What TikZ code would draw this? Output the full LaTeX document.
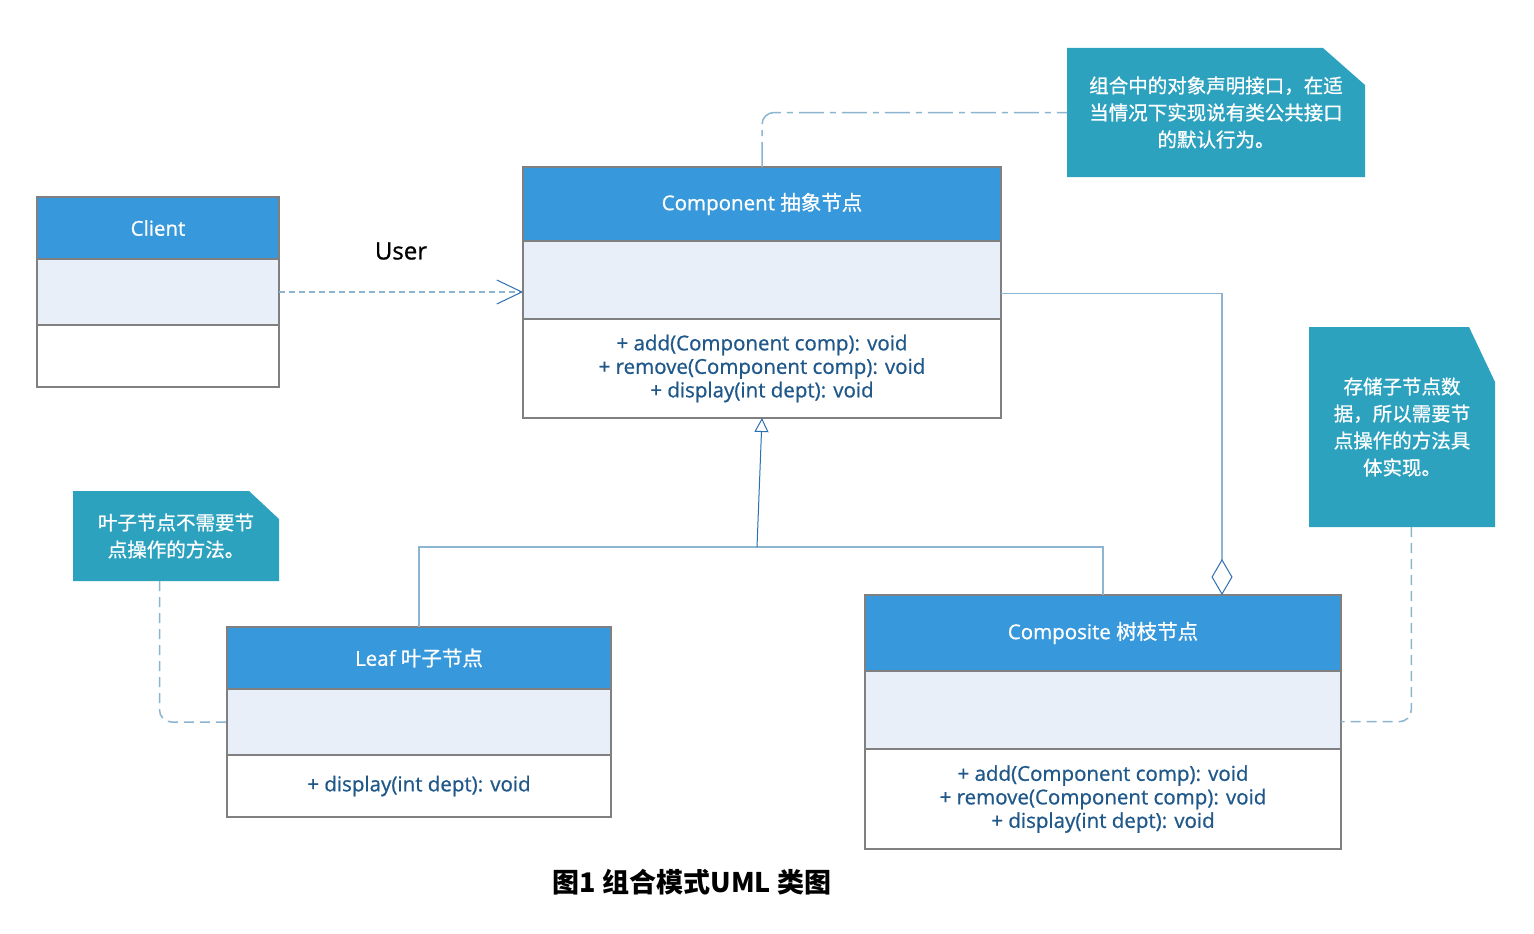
\documentclass[tikz,border=0pt]{standalone}
\usepackage{fontspec}
\setmainfont{Open Sans}[FakeBold=0.8]
\newfontfamily\zh{Noto Sans CJK SC}[FakeBold=0.8]
\newfontfamily\zhtitre{Noto Sans CJK SC}
\usepackage{tikz}
\usepackage{xcolor}
\usetikzlibrary{positioning, calc, arrows.meta, backgrounds}

\definecolor{enteteBleu}{RGB}{55,152,219}
\definecolor{attrFond}{RGB}{232,239,248}
\definecolor{bordGris}{RGB}{128,128,128}
\definecolor{texteMeth}{RGB}{32,88,138}
\definecolor{lienClair}{RGB}{140,181,209}
\definecolor{lienFonce}{RGB}{45,112,178}
\definecolor{noteFond}{RGB}{44,162,191}

\begin{document}
\begin{tikzpicture}[x=1pt, y=-1pt,
    entete/.style={rectangle, draw=bordGris, line width=1.5pt, fill=enteteBleu,
      text=white, inner sep=0pt, outer sep=0pt,
      font=\fontsize{20.5}{24}\selectfont},
    attrs/.style={rectangle, draw=bordGris, line width=1.5pt, fill=attrFond,
      inner sep=0pt, outer sep=0pt},
    meths/.style={rectangle, draw=bordGris, line width=1.5pt, fill=white,
      text=texteMeth, align=center, inner sep=0pt, outer sep=0pt,
      font=\fontsize{20.5}{23.5}\selectfont},
    note/.style={text=white, align=center, inner sep=0pt, outer sep=0pt,
      font=\zh\fontsize{19.5}{27}\selectfont},
    lien/.style={draw=lienClair, line width=1.5pt},
    notelien/.style={lien, rounded corners=12pt, dash pattern=on 10pt off 6pt}
    ]

    \path[use as bounding box] (0,0) rectangle (1534,934);
    \begin{scope}[on background layer]
      \fill[white] (0,0) rectangle (1534,934);
    \end{scope}

    % Classes
    % Client
    \node[entete, minimum width=242pt, minimum height=62pt] (clientTete)
    at (158,228) {Client};
    \node[attrs, minimum width=242pt, minimum height=66pt,
    below=0pt of clientTete] (clientAttr) {};
    \node[meths, minimum width=242pt, minimum height=62pt,
    below=0pt of clientAttr] (clientMeth) {};

    % Component
    \node[entete, minimum width=478pt, minimum height=74pt] (compTete)
    at (762,204) {Component {\zh 抽象节点}};
    \node[attrs, minimum width=478pt, minimum height=78pt,
    below=0pt of compTete] (compAttr) {};
    \node[meths, minimum width=478pt, minimum height=99pt,
    below=0pt of compAttr] (compMeth)
    {+ add(Component comp): void\\+ remove(Component comp): void\\+ display(int dept): void};

    % Leaf
    \node[entete, minimum width=384pt, minimum height=62pt] (leafTete)
    at (419,658) {Leaf {\zh 叶子节点}};
    \node[attrs, minimum width=384pt, minimum height=66pt,
    below=0pt of leafTete] (leafAttr) {};
    \node[meths, minimum width=384pt, minimum height=62pt,
    below=0pt of leafAttr] (leafMeth) {+ display(int dept): void};

    % Composite
    \node[entete, minimum width=476pt, minimum height=76pt] (compoTete)
    at (1103,633) {Composite {\zh 树枝节点}};
    \node[attrs, minimum width=476pt, minimum height=78pt,
    below=0pt of compoTete] (compoAttr) {};
    \node[meths, minimum width=476pt, minimum height=100pt,
    below=0pt of compoAttr] (compoMeth)
    {+ add(Component comp): void\\+ remove(Component comp): void\\+ display(int dept): void};

    % Notes
    \node[note, minimum width=298pt, minimum height=129pt] (note1)
    at (1216,112.5) {组合中的对象声明接口，在适\\当情况下实现说有类公共接口\\的默认行为。};
    \node[note, minimum width=186pt, minimum height=200pt] (note2)
    at (1402,427) {存储子节点数\\据，所以需要节\\点操作的方法具\\体实现。};
    \node[note, minimum width=206pt, minimum height=90pt] (note3)
    at (176,536) {叶子节点不需要节\\点操作的方法。};

    \begin{scope}[on background layer]
      \fill[noteFond] (note1.north west) -- ([xshift=-42pt]note1.north east)
      -- ([yshift=-37pt]note1.north east) -- (note1.south east)
      -- (note1.south west) -- cycle;
      \fill[noteFond] (note2.north west) -- ([xshift=-26pt]note2.north east)
      -- ([yshift=-55pt]note2.north east) -- (note2.south east)
      -- (note2.south west) -- cycle;
      \fill[noteFond] (note3.north west) -- ([xshift=-30pt]note3.north east)
      -- ([yshift=-28pt]note3.north east) -- (note3.south east)
      -- (note3.south west) -- cycle;
    \end{scope}

    % Textes
    \node[font=\fontsize{24}{28}\selectfont] (user) at (401,251) {User};
    \node[font=\zhtitre\bfseries\fontsize{27}{32}\selectfont] (titre) at (692,882)
    {图1 组合模式UML 类图};

    % Liens
    \draw[lien, dash pattern=on 6pt off 4pt,
    -{Straight Barb[length=25pt, width=24pt, line width=1pt, color=lienFonce]}]
    ($(clientAttr.north east)!0.5!(clientAttr.south east)$) coordinate (depDebut)
    -- (depDebut -| compAttr.west);

    \coordinate (genJonction) at (757,547);
    \draw[lien] (leafTete.north) |- (genJonction) -| (compoTete.north);
    \draw[lien, line width=1pt, draw=lienFonce,
    -{Triangle[open, fill=white, length=14pt, width=14pt]}]
    (genJonction) -- (compMeth.south);

    \draw[lien,
    -{Diamond[open, fill=white, length=36pt, width=21pt, line width=1pt, color=lienFonce]}]
    ($(compAttr.north east)!0.67!(compAttr.south east)$)
    -| ($(compoTete.north west)!0.75!(compoTete.north east)$);

    \draw[notelien, dash pattern=on 25pt off 6pt on 6pt off 6pt]
    (compTete.north) |- (note1.west);
    \draw[notelien] ($(note2.south west)!0.55!(note2.south east)$)
    |- ($(compoAttr.north east)!0.65!(compoAttr.south east)$);
    \draw[notelien] ($(note3.south west)!0.42!(note3.south east)$)
    |- (leafAttr.west);

  \end{tikzpicture}
\end{document}
